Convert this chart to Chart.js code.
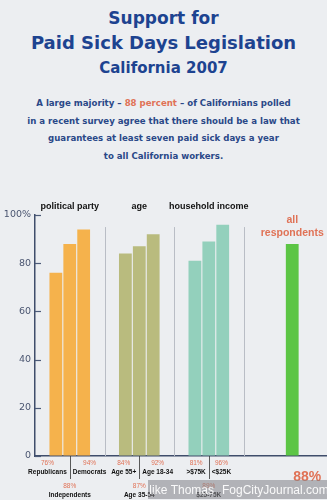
<!DOCTYPE html>
<html>
<head>
<meta charset="utf-8">
<script src="https://cdn.jsdelivr.net/npm/chart.js@4"></script>
<style>
  html, body { margin: 0; padding: 0; }
  body { width: 327px; height: 500px; background: #eceef1; position: relative; overflow: hidden; font-family: "DejaVu Sans", sans-serif; }
  #title { position: absolute; top: 6px; left: 0; width: 327px; text-align: center; color: #1d4390; font-weight: bold; }
  #title .t1 { font-size: 17px; line-height: 24px; }
  #title .t2 { font-size: 18px; line-height: 26px; }
  #title .t3 { font-size: 15px; line-height: 25px; }
  #blurb { position: absolute; top: 95px; left: 0; width: 327px; text-align: center; color: #2a4888; font-weight: bold; font-size: 8.6px; line-height: 17.5px; }
  #blurb span { color: #e07256; }
  #chartBox { position: absolute; top: 190px; left: 0; width: 327px; height: 310px; }
</style>
</head>
<body>
<div id="title">
  <div class="t1">Support for</div>
  <div class="t2">Paid Sick Days Legislation</div>
  <div class="t3">California 2007</div>
</div>
<div id="blurb">
  A large majority – <span>88 percent</span> – of Californians polled<br>
  in a recent survey agree that there should be a law that<br>
  guarantees at least seven paid sick days a year<br>
  to all California workers.
</div>
<div id="chartBox"><canvas id="sickDays"></canvas></div>
<script>
const partyLabels = ['Republicans', 'Independents', 'Democrats'];
const partyValues = [76, 88, 94];
const ageLabels = ['Age 55+', 'Age 35-54', 'Age 18-34'];
const ageValues = [84, 87, 92];
const incomeLabels = ['>$75K', '$25-75K', '<$25K'];
const incomeValues = [81, 89, 96];
const allValue = 88;
const yTicks = [0, 20, 40, 60, 80, 100];

const groups = [
    { title: 'political party', labels: partyLabels, values: partyValues, slots: [1, 2, 3], color: '#f5b24c' },
    { title: 'age', labels: ageLabels, values: ageValues, slots: [6, 7, 8], color: '#b9bb7e' },
    { title: 'household income', labels: incomeLabels, values: incomeValues, slots: [11, 12, 13], color: '#93d0bc' },
    { title: 'all respondents', labels: [''], values: [allValue], slots: [18], color: '#5cc545' }
];
const separators = [5, 10, 15]; // slot boundaries
const slotCount = 21;

const slotLabels = new Array(slotCount).fill('');
const slotData = new Array(slotCount).fill(null);
const slotColors = new Array(slotCount).fill('transparent');
groups.forEach(g => {
    g.slots.forEach((s, i) => {
        slotLabels[s] = g.labels[i];
        slotData[s] = g.values[i];
        slotColors[s] = g.color;
    });
});

const narrow = '"Liberation Sans Narrow", "Liberation Sans", sans-serif';

const posterDecor = {
    id: 'posterDecor',
    afterDraw(chart) {
        const ctx = chart.ctx;
        const x = chart.scales.x;
        const y = chart.scales.y;
        const area = chart.chartArea;
        const half = (x.getPixelForValue(1) - x.getPixelForValue(0)) / 2;
        ctx.save();

        // thin separators between groups
        ctx.strokeStyle = '#b9bdc5';
        ctx.lineWidth = 1;
        separators.forEach(b => {
            const px = Math.round(x.getPixelForValue(b) - half) + 0.5;
            ctx.beginPath();
            ctx.moveTo(px, y.getPixelForValue(95));
            ctx.lineTo(px, area.bottom);
            ctx.stroke();
        });

        // inward ticks on the y axis
        ctx.strokeStyle = '#4c5a78';
        ctx.lineWidth = 1.2;
        yTicks.forEach(v => {
            const py = Math.round(y.getPixelForValue(v)) + 0.5;
            ctx.beginPath();
            ctx.moveTo(area.left, py);
            ctx.lineTo(area.left + 6, py);
            ctx.stroke();
        });

        // group headers
        ctx.textAlign = 'center';
        groups.forEach(g => {
            const cx = x.getPixelForValue(g.slots[Math.floor(g.slots.length / 2)]);
            if (g.title === 'all respondents') {
                ctx.fillStyle = '#e07256';
                ctx.font = 'bold 10.5px ' + narrow;
                ctx.fillText('all', cx, 33);
                ctx.fillText('respondents', cx, 46);
            } else {
                ctx.fillStyle = '#111';
                ctx.font = 'bold 9px ' + narrow;
                ctx.fillText(g.title, cx, 19);
            }
        });

        // bar labels under the axis: outer two beside the middle tick, middle one a row lower
        groups.slice(0, 3).forEach(g => {
            const mid = x.getPixelForValue(g.slots[1]);
            const tx = Math.round(mid) + 0.5;
            ctx.strokeStyle = '#333';
            ctx.lineWidth = 0.8;
            ctx.beginPath();
            ctx.moveTo(tx, area.bottom);
            ctx.lineTo(tx, 289);
            ctx.stroke();
            g.slots.forEach((s, i) => {
                let lx = mid, align = 'center', top = 298;
                if (i === 0) { lx = mid - 3; align = 'right'; top = 275; }
                if (i === 2) { lx = mid + 3; align = 'left'; top = 275; }
                ctx.font = 'bold 6.5px ' + narrow;
                const w = ctx.measureText(g.labels[i]).width;
                const cx = align === 'center' ? lx : (align === 'right' ? lx - w / 2 : lx + w / 2);
                ctx.textAlign = 'center';
                ctx.fillStyle = '#e07256';
                ctx.font = '6.5px ' + narrow;
                ctx.fillText(g.values[i] + '%', cx, top);
                ctx.fillStyle = '#111';
                ctx.font = 'bold 6.5px ' + narrow;
                ctx.fillText(g.labels[i], cx, top + 8.5);
            });
        });
        ctx.textAlign = 'center';
        ctx.fillStyle = '#e07256';
        ctx.font = 'bold 14px ' + narrow;
        ctx.fillText(allValue + '%', x.getPixelForValue(18) + 15, 291);

        // photo watermark
        ctx.fillStyle = 'rgba(130,130,135,0.55)';
        ctx.fillRect(148, 290, 179, 19);
        ctx.beginPath();
        ctx.rect(150, 290, 177, 19);
        ctx.clip();
        ctx.fillStyle = 'rgba(255,255,255,0.92)';
        ctx.font = '12px "Liberation Sans", sans-serif';
        ctx.textAlign = 'right';
        ctx.fillText('Mike Thomas', 214, 304);
        ctx.textAlign = 'left';
        ctx.fillText('FogCityJournal.com', 222, 304);
        ctx.restore();
    }
};

const sickChart = new Chart(
    document.getElementById('sickDays'),
    {
    type: 'bar',
    data: {
        labels: slotLabels,
        datasets: [{
            data: slotData,
            backgroundColor: slotColors,
            barPercentage: 0.92,
            categoryPercentage: 1
        }]
    },
    options: {
        responsive: true,
        maintainAspectRatio: false,
        animation: false,
        layout: { padding: { top: 25, bottom: 44, right: 0, left: 0 } },
        plugins: { legend: { display: false }, tooltip: { enabled: false } },
        scales: {
            x: {
                ticks: { display: false },
                grid: { display: false, drawTicks: false },
                border: { color: '#3f4d6b', width: 1.5 }
            },
            y: {
                min: 0,
                max: 100,
                afterBuildTicks: (s) => { s.ticks = yTicks.map(v => ({ value: v })); },
                afterFit: (s) => { s.width = 35; },
                ticks: {
                    color: '#4a5570',
                    font: { family: '"DejaVu Sans", sans-serif', size: 9.5 },
                    padding: 4,
                    callback: (v) => v === 100 ? '100%' : v
                },
                grid: { drawOnChartArea: false, drawTicks: false },
                border: { color: '#3f4d6b', width: 1.5 }
            }
        }
    },
    plugins: [posterDecor]
});
</script>
</body>
</html>
